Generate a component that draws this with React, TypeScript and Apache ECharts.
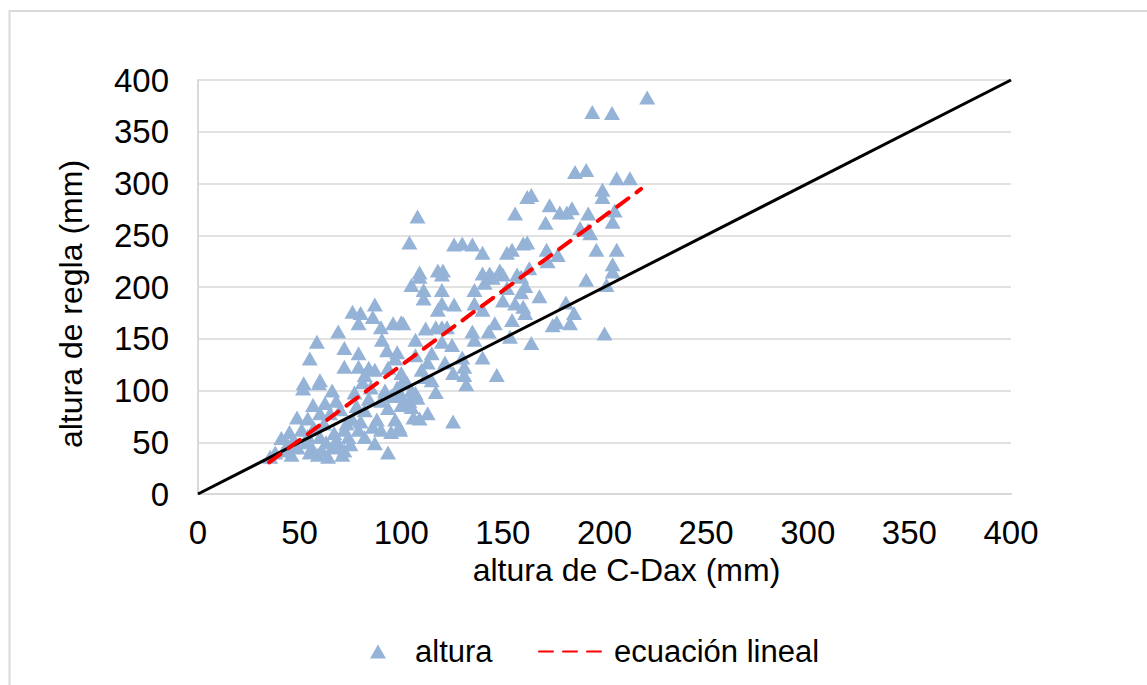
import React, { useEffect, useRef } from "react";
import * as echarts from "echarts";

const FONT = "'Liberation Sans', Arial, sans-serif";

const axisTicks = [0, 50, 100, 150, 200, 250, 300, 350, 400];
const seriesNames = ["altura", "ecuación lineal"];
const xAxisName = "altura de C-Dax (mm)";
const yAxisName = "altura de regla (mm)";

// scatter: altura de C-Dax (x) vs altura de regla (y)
const alturaX = [
  51.7, 59.5, 66, 56.6, 62.5, 48.7, 54, 77, 81, 85, 92, 98, 93.5, 82, 76, 79, 82, 87, 93.5, 41, 45, 51, 35.5, 43, 49, 56, 66, 71, 64, 59, 67, 72, 86, 97,
  38, 46, 53, 60, 63, 68, 70, 74, 62, 57, 65, 70, 73, 78, 88, 90, 95, 100, 84, 68, 60, 54, 47, 75, 80, 72, 61, 44, 55, 90, 95, 99, 104, 105,
  87, 76, 80, 86, 79, 90, 96, 100, 69, 58.5, 90.5, 72, 79, 93, 97, 55, 72, 79, 84, 87, 93.5, 100, 82, 60, 52,
  147, 131, 125.5, 132, 117, 107, 103, 112, 100, 106, 109, 113, 125.5, 99.5, 101, 105, 108, 97, 110, 115,
  109, 120, 105, 111, 120, 111, 136, 141, 145, 150, 157, 152, 150, 156, 136, 120, 126, 118, 140, 101, 117, 120, 122.5, 112, 135, 143, 146, 154.5, 153.5, 107, 120, 125, 136, 98, 107, 115, 130, 140, 113, 121.5, 131,
  108, 156, 104, 126, 130, 135, 140, 152, 154.5, 160, 109, 118, 120.5, 148.5, 143.5, 140,
  199, 199, 162, 164, 173, 178, 181.5, 184, 192, 205, 171, 188, 192, 204, 193, 162, 196, 206, 171.5, 177, 172, 204, 204, 163, 159, 191, 201, 161, 159, 168, 181, 185, 176.5, 174.5, 183, 200, 164, 161, 160,
  194, 203.7, 221, 185.5, 191, 206, 212.5,
];
const alturaY = [
  102, 107, 100, 86, 88, 74, 73, 98, 108, 103, 100, 103, 83, 81, 72, 62, 55, 49, 40, 54, 60, 62, 36, 42, 45, 45, 45, 38, 36, 38, 59, 62, 65, 72,
  40, 38, 50, 55, 50, 52, 46, 55, 68, 64, 78, 82, 68, 85, 72, 90, 95, 95, 92, 90, 78, 56, 52, 48, 70, 42, 42, 48, 40, 62, 60, 65, 90, 84,
  183, 176, 175, 171, 165, 161, 165, 166, 157, 147, 149, 141, 136, 139, 131, 131, 123, 123, 122, 120, 122, 117, 115, 110, 107,
  115, 115, 117, 106, 98.5, 97.6, 107, 113, 86, 74, 73, 78, 70, 62, 110, 100, 93, 95, 120, 110,
  210, 212, 202, 197, 197, 189, 197, 204, 209, 212, 212, 199, 187, 184, 184, 184, 183, 178, 178, 165, 161, 161, 161, 160, 157, 157, 165, 168, 152, 149, 147, 144, 149, 137, 134, 136, 132, 132, 127, 127, 123,
  268, 271, 243, 241, 242, 241, 233, 233, 236, 242, 214, 216, 216, 216, 213, 213,
  294, 287, 287, 289, 279, 272, 272, 276, 271, 274, 262, 257, 255, 263, 252, 243, 236, 236, 236, 231, 225, 222, 215, 218, 210, 207, 202, 201, 195, 191, 185, 175, 166, 163, 165, 155, 146, 175, 181,
  369, 368, 383, 311, 313, 305, 305,
];

// identity line y = x
const identityX = [0, 400];
const identityY = [0, 400];

// linear fit line ("ecuación lineal")
const fitX = [35, 218];
const fitY = [30.5, 294.7];

export default function App() {
  const ref = useRef<HTMLDivElement>(null);

  useEffect(() => {
    document.body.style.margin = "0";
    const chart = echarts.init(ref.current!, undefined, { renderer: "svg" });
    const scatterData = alturaX.map((x, i) => [x, alturaY[i]]);
    const identityData = identityX.map((x, i) => [x, identityY[i]]);
    const fitData = fitX.map((x, i) => [x, fitY[i]]);

    chart.setOption({
      animation: false,
      backgroundColor: "#ffffff",
      textStyle: { fontFamily: FONT },
      graphic: [
        {
          type: "rect",
          shape: { x: 9.5, y: 11, width: 1300, height: 800 },
          style: { fill: "none", stroke: "#d9d9d9", lineWidth: 2 },
          silent: true,
        },
      ],
      grid: { left: 198, right: 136, top: 80, bottom: 191 },
      legend: [
        {
          data: [seriesNames[0]],
          top: 631,
          left: 365,
          itemWidth: 16,
          itemHeight: 14,
          textStyle: { fontSize: 31, color: "#000", fontFamily: FONT, padding: [0, 0, 0, 24] },
        },
        {
          data: [{ name: seriesNames[1], itemStyle: { color: "rgba(0,0,0,0)", opacity: 0 } }],
          top: 631,
          left: 533,
          itemWidth: 70,
          itemHeight: 16,
          textStyle: { fontSize: 31, color: "#000", fontFamily: FONT, padding: [0, 0, 0, 0] },
        },
      ],
      xAxis: {
        type: "value",
        min: axisTicks[0],
        max: axisTicks[axisTicks.length - 1],
        interval: 50,
        name: xAxisName,
        nameLocation: "middle",
        nameGap: 60,
        nameTextStyle: { fontSize: 32, color: "#000", fontFamily: FONT, padding: [0, 0, 0, 44] },
        axisLine: { show: true, lineStyle: { color: "#d9d9d9", width: 2 } },
        axisTick: { show: false },
        splitLine: { show: false },
        axisLabel: { fontSize: 33, color: "#000", margin: 22, fontFamily: FONT },
      },
      yAxis: {
        type: "value",
        min: axisTicks[0],
        max: axisTicks[axisTicks.length - 1],
        interval: 50,
        name: yAxisName,
        nameLocation: "middle",
        nameGap: 111,
        nameRotate: 90,
        nameTextStyle: { fontSize: 32, color: "#000", fontFamily: FONT, padding: [0, 34, 0, 0] },
        axisLine: { show: true, lineStyle: { color: "#d9d9d9", width: 2 } },
        axisTick: { show: false },
        splitLine: { show: true, lineStyle: { color: "#d9d9d9", width: 1.5 } },
        axisLabel: { fontSize: 33, color: "#000", margin: 29, fontFamily: FONT },
      },
      series: [
        {
          name: seriesNames[0],
          type: "scatter",
          symbol: "triangle",
          symbolSize: [16, 14],
          itemStyle: { color: "#95b3d7", opacity: 1 },
          data: scatterData,
          z: 2,
        },
        {
          name: "identidad",
          type: "line",
          symbol: "none",
          data: identityData,
          lineStyle: { color: "#000000", width: 3 },
          z: 3,
        },
        {
          name: seriesNames[1],
          type: "line",
          symbol: "none",
          data: fitData,
          lineStyle: { color: "#ff0000", width: 4, type: [14, 10], cap: "round" },
          itemStyle: { color: "#ff0000" },
          z: 4,
        },
      ],
    });
    return () => chart.dispose();
  }, []);

  return <div ref={ref} style={{ width: 1147, height: 685 }} />;
}
